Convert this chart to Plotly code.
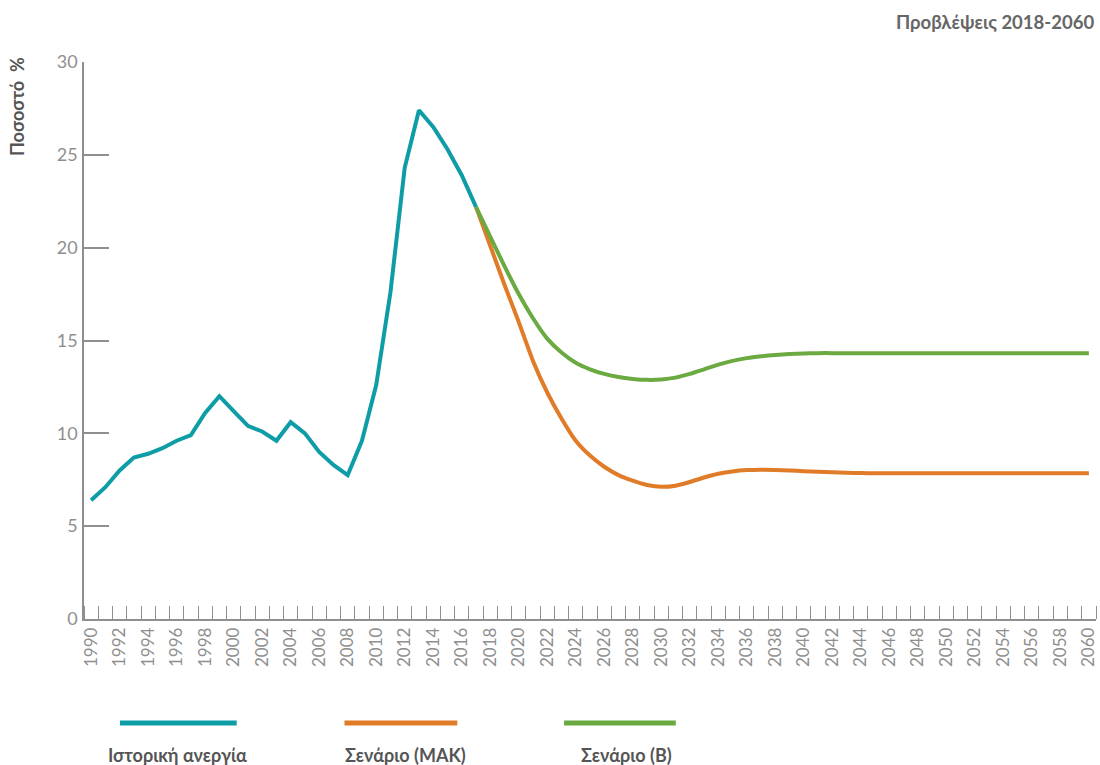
"""Greek unemployment: history and scenario projections 2018-2060."""

import plotly.graph_objects as go

hist_years = list(range(1990, 2018))
hist_values = [
    6.4, 7.1, 8.0, 8.7, 8.9, 9.2, 9.6, 9.9, 11.1, 12.0,
    11.2, 10.4, 10.1, 9.6, 10.6, 10.0, 9.0, 8.3, 7.75, 9.6,
    12.6, 17.6, 24.3, 27.4, 26.5, 25.3, 23.9, 22.2,
]

scen_years = list(range(2017, 2061))
mak_values = [
    22.2, 20.1, 18.0, 16.0, 13.9, 12.2, 10.8, 9.6, 8.8, 8.2,
    7.75, 7.45, 7.22, 7.12, 7.18, 7.38, 7.62, 7.82, 7.95, 8.02,
    8.04, 8.03, 8.0, 7.96, 7.93, 7.9, 7.88, 7.86, 7.85, 7.85,
    7.85, 7.85, 7.85, 7.85, 7.85, 7.85, 7.85, 7.85, 7.85, 7.85,
    7.85, 7.85, 7.85, 7.85,
]
b_values = [
    22.2, 20.6, 19.0, 17.5, 16.2, 15.1, 14.35, 13.8, 13.45, 13.2,
    13.03, 12.93, 12.88, 12.9, 13.0, 13.2, 13.45, 13.7, 13.9, 14.05,
    14.15, 14.22, 14.27, 14.3, 14.32, 14.32, 14.32, 14.32, 14.32, 14.32,
    14.32, 14.32, 14.32, 14.32, 14.32, 14.32, 14.32, 14.32, 14.32, 14.32,
    14.32, 14.32, 14.32, 14.32,
]

y_ticks = [0, 5, 10, 15, 20, 25, 30]
x_ticks = list(range(1990, 2061, 2))

series_names = ["Ιστορική ανεργία", "Σενάριο (ΜΑΚ)", "Σενάριο (Β)"]
colors = ["#0E9DA6", "#E07B28", "#6BAA40"]

AXIS_GRAY = "#8f8f8f"
TEXT_DARK = "#555555"

fig = go.Figure()

# scenarios first so the history sits on top at the join
fig.add_trace(
    go.Scatter(
        x=scen_years, y=mak_values, mode="lines",
        line={"color": colors[1], "width": 4, "shape": "spline", "smoothing": 0.6},
        name=series_names[1], showlegend=False,
    )
)
fig.add_trace(
    go.Scatter(
        x=scen_years, y=b_values, mode="lines",
        line={"color": colors[2], "width": 4, "shape": "spline", "smoothing": 0.6},
        name=series_names[2], showlegend=False,
    )
)
fig.add_trace(
    go.Scatter(
        x=hist_years, y=hist_values, mode="lines",
        line={"color": colors[0], "width": 4},
        name=series_names[0], showlegend=False,
    )
)

fig.update_layout(
    width=1100,
    height=765,
    margin={"l": 84, "r": 2, "t": 62, "b": 146},
    plot_bgcolor="white",
    paper_bgcolor="white",
    font={"family": "Lato, sans-serif", "color": AXIS_GRAY},
    showlegend=False,
)

fig.update_xaxes(
    range=[1989.5, 2060.5],
    tickmode="array",
    tickvals=x_ticks,
    ticktext=[str(v) for v in x_ticks],
    tickangle=-90,
    ticks="",
    ticklabeloverflow="allow",
    tickfont={"size": 17, "color": AXIS_GRAY},
    showgrid=False,
    zeroline=False,
    showline=True,
    linecolor=AXIS_GRAY,
    linewidth=1.5,
    minor={
        "tickmode": "linear",
        "tick0": 1990.5,
        "dtick": 1,
        "ticks": "inside",
        "ticklen": 13,
        "tickcolor": AXIS_GRAY,
        "tickwidth": 1,
        "showgrid": False,
    },
)

fig.update_yaxes(
    range=[0, 30],
    tickmode="array",
    tickvals=y_ticks,
    ticks="inside",
    ticklen=25,
    tickcolor=AXIS_GRAY,
    tickwidth=1.5,
    tickfont={"size": 18, "color": AXIS_GRAY},
    ticklabelstandoff=1,
    showgrid=False,
    zeroline=False,
    showline=True,
    linecolor=AXIS_GRAY,
    linewidth=1.5,
)

# y-axis title and header
fig.add_annotation(
    text="<b>Ποσοστό  %</b>", textangle=-90,
    xref="paper", yref="paper", x=-0.066, y=1.012,
    xanchor="center", yanchor="top", showarrow=False,
    font={"size": 18, "color": TEXT_DARK},
)
fig.add_annotation(
    text="<b>Προβλέψεις 2018-2060</b>",
    xref="paper", yref="paper", x=1.0, y=1.0, yshift=40,
    xanchor="right", yanchor="middle", showarrow=False,
    font={"size": 18.5, "color": "#666666"},
)

# custom legend under the chart
legend_x = [(120, 237), (345, 458), (565, 677)]
label_cx = [178, 406, 628]
for (x0, x1), cx, name, color in zip(legend_x, label_cx, series_names, colors):
    fig.add_shape(
        type="line", xref="paper", yref="paper",
        x0=(x0 - 84) / 1014, x1=(x1 - 84) / 1014,
        y0=-(723 - 619) / 557, y1=-(723 - 619) / 557,
        line={"color": color, "width": 5},
    )
    fig.add_annotation(
        text=f"<b>{name}</b>",
        xref="paper", yref="paper",
        x=(cx - 84) / 1014, y=-(755 - 619) / 557,
        xanchor="center", yanchor="middle", showarrow=False,
        font={"size": 18, "color": TEXT_DARK},
    )

fig.write_html(
    "out.html",
    config={"displayModeBar": False},
    post_script="document.body.style.margin='0';document.body.style.overflow='hidden';",
)
